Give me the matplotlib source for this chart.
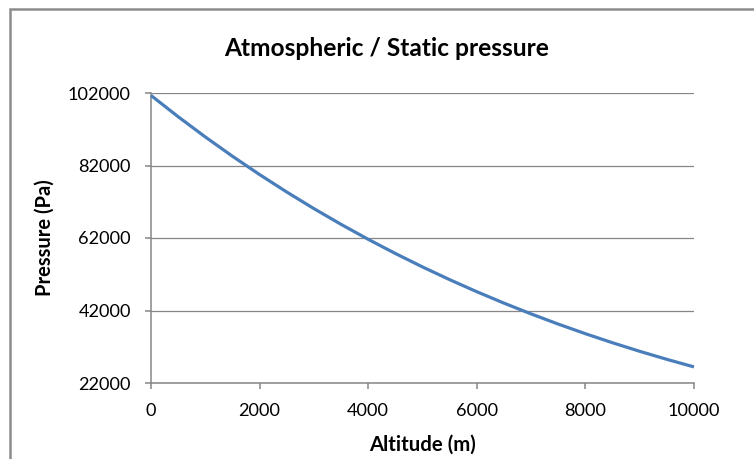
import matplotlib
matplotlib.use("Agg")
import matplotlib.pyplot as plt
from matplotlib.patches import Rectangle

# Values
altitude_m = [0, 500, 1000, 1500, 2000, 2500, 3000, 3500, 4000, 4500, 5000,
              5500, 6000, 6500, 7000, 7500, 8000, 8500, 9000, 9500, 10000]
pressure_pa = [101325, 95461, 89875, 84556, 79495, 74682, 70108, 65764, 61640,
               57728, 54020, 50507, 47181, 44035, 41061, 38251, 35600, 33099,
               30742, 28524, 26436]

y_ticks = [22000, 42000, 62000, 82000, 102000]
x_ticks = [0, 2000, 4000, 6000, 8000, 10000]

title = "Atmospheric / Static pressure"
x_label = "Altitude (m)"
y_label = "Pressure (Pa)"

plt.rcParams["font.family"] = ["Lato", "DejaVu Sans"]

W, H = 754, 459
fig = plt.figure(figsize=(W / 100, H / 100), dpi=100)
ax = fig.add_axes([151 / W, 1 - 383 / H, 543 / W, 290 / H])
renderer = fig.canvas.get_renderer()


def fit_size(text, target_px, weight="normal", rotation=0):
    # scale the font size so the text spans about target_px pixels
    t = fig.text(0, 0, text, fontsize=10, fontweight=weight, rotation=rotation)
    bb = t.get_window_extent(renderer)
    t.remove()
    span = bb.height if rotation else bb.width
    return 10 * target_px / span


tick_size = fit_size("102000", 63)
title_size = fit_size(title, 325, "bold")
xlab_size = fit_size(x_label, 107, "bold")
ylab_size = fit_size(y_label, 117, "bold", rotation=90)

grid_color = "#868686"
ax.plot(altitude_m, pressure_pa, color="#4A7EBB", linewidth=2.3,
        solid_capstyle="butt", zorder=3, clip_on=False)

ax.set_xlim(0, 10000)
ax.set_ylim(22000, 102000)
ax.set_xticks(x_ticks)
ax.set_yticks(y_ticks)
ax.tick_params(axis="both", colors=grid_color, labelcolor="black",
               labelsize=tick_size, length=4.5, width=1.1, direction="out")
ax.tick_params(axis="x", pad=10)
ax.tick_params(axis="y", pad=10)
ax.grid(axis="y", color=grid_color, linewidth=0.9)
ax.set_axisbelow(True)

for side in ["top", "right"]:
    ax.spines[side].set_visible(False)
for side in ["left", "bottom"]:
    ax.spines[side].set_color(grid_color)
    ax.spines[side].set_linewidth(1.1)

fig.text(387 / W, 1 - 48 / H, title, ha="center", va="center",
         fontsize=title_size, fontweight="bold")
fig.text(422 / W, 1 - 445 / H, x_label, ha="center", va="center",
         fontsize=xlab_size, fontweight="bold")
fig.text(45 / W, 1 - 238 / H, y_label, ha="center", va="center",
         rotation=90, fontsize=ylab_size, fontweight="bold")

# chart frame, cut off at the right and bottom edges
fig.patches.append(Rectangle((9.5 / W, -0.05), 1.0, 1 - 9.5 / H + 0.05,
                             transform=fig.transFigure, fill=False,
                             edgecolor="#8c8c8c", linewidth=1.8))

fig.savefig("out.png", dpi=100)
